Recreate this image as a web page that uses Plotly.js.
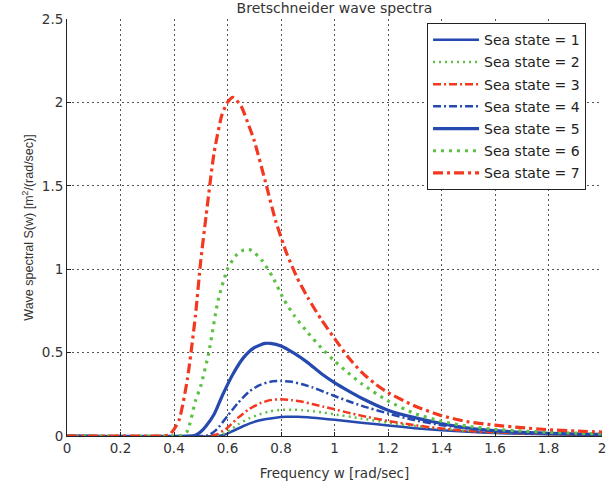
<!DOCTYPE html>
<html>
<head>
<meta charset="utf-8">
<script src="https://cdn.plot.ly/plotly-3.0.1.min.js"></script>
<style>html,body{margin:0;padding:0;background:#fff;}#chart{width:616px;height:488px;}</style>
</head>
<body>
<div id="chart"></div>
<script>
// Sea state 1
const w1 = [0,0.56,0.59,0.62,0.66,0.70,0.74,0.78,0.82,0.86,0.90,0.95,1.0,1.1,1.2,1.3,1.4,1.5,1.6,1.7,1.8,1.9,2.0];
const s1 = [0,0,0.008,0.03,0.06,0.085,0.10,0.11,0.115,0.115,0.112,0.105,0.097,0.08,0.063,0.047,0.034,0.025,0.018,0.013,0.01,0.007,0.005];
// Sea state 2
const w2 = [0,0.54,0.57,0.60,0.64,0.68,0.72,0.76,0.80,0.84,0.88,0.92,0.96,1.0,1.1,1.2,1.3,1.4,1.5,1.6,1.7,1.8,1.9,2.0];
const s2 = [0,0,0.005,0.025,0.07,0.105,0.13,0.148,0.157,0.158,0.155,0.148,0.14,0.13,0.105,0.08,0.06,0.043,0.031,0.022,0.016,0.012,0.009,0.007];
// Sea state 3
const w3 = [0,0.52,0.56,0.60,0.64,0.68,0.72,0.76,0.80,0.84,0.88,0.92,0.96,1.0,1.05,1.1,1.2,1.3,1.4,1.5,1.6,1.7,1.8,1.9,2.0];
const s3 = [0,0,0.01,0.05,0.11,0.16,0.195,0.215,0.22,0.215,0.205,0.19,0.175,0.16,0.14,0.122,0.09,0.065,0.045,0.03,0.022,0.016,0.012,0.009,0.007];
// Sea state 4
const w4 = [0,0.5,0.53,0.56,0.60,0.64,0.68,0.72,0.76,0.80,0.84,0.88,0.92,0.96,1.0,1.05,1.1,1.2,1.3,1.4,1.5,1.6,1.7,1.8,1.9,2.0];
const s4 = [0,0,0.005,0.04,0.12,0.20,0.265,0.305,0.325,0.33,0.325,0.31,0.29,0.265,0.24,0.21,0.182,0.135,0.095,0.065,0.045,0.03,0.022,0.016,0.012,0.009];
// Sea state 5
const w5 = [0,0.45,0.48,0.50,0.52,0.55,0.58,0.62,0.66,0.70,0.74,0.76,0.80,0.85,0.90,0.95,1.0,1.05,1.1,1.2,1.3,1.4,1.5,1.6,1.7,1.8,1.9,2.0];
const s5 = [0,0,0.005,0.025,0.06,0.13,0.24,0.37,0.47,0.53,0.555,0.555,0.54,0.495,0.44,0.375,0.32,0.272,0.228,0.155,0.11,0.075,0.048,0.032,0.022,0.016,0.012,0.01];
// Sea state 6
const w6 = [0,0.4,0.43,0.45,0.48,0.50,0.53,0.565,0.60,0.63,0.66,0.68,0.70,0.73,0.77,0.81,0.85,0.90,0.95,1.0,1.05,1.1,1.2,1.3,1.4,1.5,1.6,1.7,1.8,1.9,2.0];
const s6 = [0,0,0.005,0.03,0.21,0.30,0.50,0.815,1.00,1.08,1.115,1.12,1.10,1.05,0.95,0.82,0.72,0.62,0.53,0.45,0.38,0.315,0.21,0.135,0.088,0.058,0.04,0.03,0.022,0.017,0.013];
// Sea state 7
const w7 = [0,0.1,0.2,0.3,0.38,0.40,0.42,0.45,0.48,0.50,0.52,0.55,0.58,0.60,0.62,0.65,0.68,0.70,0.74,0.78,0.82,0.86,0.90,0.95,1.0,1.05,1.1,1.15,1.2,1.3,1.4,1.5,1.6,1.7,1.8,1.9,2.0];
const s7 = [0,0,0,0,0.005,0.04,0.10,0.34,0.72,1.05,1.32,1.70,1.93,2.00,2.03,1.98,1.86,1.77,1.535,1.29,1.10,0.95,0.83,0.70,0.585,0.475,0.385,0.315,0.26,0.18,0.122,0.085,0.065,0.05,0.038,0.03,0.024];

const legendNames = ["Sea state = 1","Sea state = 2","Sea state = 3","Sea state = 4","Sea state = 5","Sea state = 6","Sea state = 7"];
const xs = [w1,w2,w3,w4,w5,w6,w7];
const ys = [s1,s2,s3,s4,s5,s6,s7];

const BLUE = '#2649b0', GREEN = '#5cc145', RED = '#f2381f';
const styles = [
  {color: BLUE,  width: 2.5, dash: 'solid'},
  {color: GREEN, width: 2.5, dash: '2px,4px'},
  {color: RED,   width: 2.5, dash: '8px,3px,2px,3px'},
  {color: BLUE,  width: 2.5, dash: '8px,3px,2px,3px'},
  {color: BLUE,  width: 3.2, dash: 'solid'},
  {color: GREEN, width: 3.2, dash: '3px,5px'},
  {color: RED,   width: 3.2, dash: '10px,4px,3px,4px'}
];

const traces = legendNames.map((n, i) => ({
  x: xs[i], y: ys[i], type: 'scatter', mode: 'lines', name: n,
  legendgroup: 'g' + i,
  line: Object.assign({shape: 'spline', smoothing: 0.6}, styles[i])
}));

const WIDE = '"DejaVu Sans", Verdana, sans-serif';
const layout = {
  width: 616, height: 488,
  paper_bgcolor: '#fff', plot_bgcolor: '#fff',
  margin: {l: 67, r: 14, t: 19, b: 52},
  font: {family: WIDE, size: 13, color: '#333'},
  title: {text: 'Bretschneider wave spectra', font: {family: WIDE, size: 14, color: '#333'},
          xref: 'paper', x: 0.5, xanchor: 'center', yref: 'container', y: 1 - 8/488, yanchor: 'middle'},
  showlegend: true,
  legend: {x: 0.673, xanchor: 'left', y: 0.99, yanchor: 'top', bgcolor: '#fff',
           bordercolor: '#222', borderwidth: 1, font: {family: WIDE, size: 14, color: '#222'},
           tracegroupgap: 1, itemwidth: 46},
  xaxis: {range: [0, 2], dtick: 0.2, tick0: 0, showline: true, linecolor: '#222', linewidth: 1,
          ticks: 'inside', ticklen: 4, tickcolor: '#222', showgrid: true, gridcolor: '#555',
          griddash: '2px,3px', gridwidth: 1, zeroline: false,
          tickfont: {family: WIDE, size: 13.5, color: '#333'},
          title: {text: 'Frequency w [rad/sec]', font: {family: WIDE, size: 13.5, color: '#333'}, standoff: 13}},
  yaxis: {range: [0, 2.5], dtick: 0.5, tick0: 0, showline: true, linecolor: '#222', linewidth: 1,
          ticks: 'inside', ticklen: 4, tickcolor: '#222', showgrid: true, gridcolor: '#555',
          griddash: '2px,3px', gridwidth: 1, zeroline: false,
          tickfont: {family: WIDE, size: 13.5, color: '#333'},
          title: {text: 'Wave spectral S(w) [m<sup>2</sup>/(rad/sec)]', font: {family: '"Liberation Sans", Arial, sans-serif', size: 12.5, color: '#333'}, standoff: 5}}
};

Plotly.newPlot('chart', traces, layout, {displayModeBar: false, staticPlot: true});
</script>
</body>
</html>
